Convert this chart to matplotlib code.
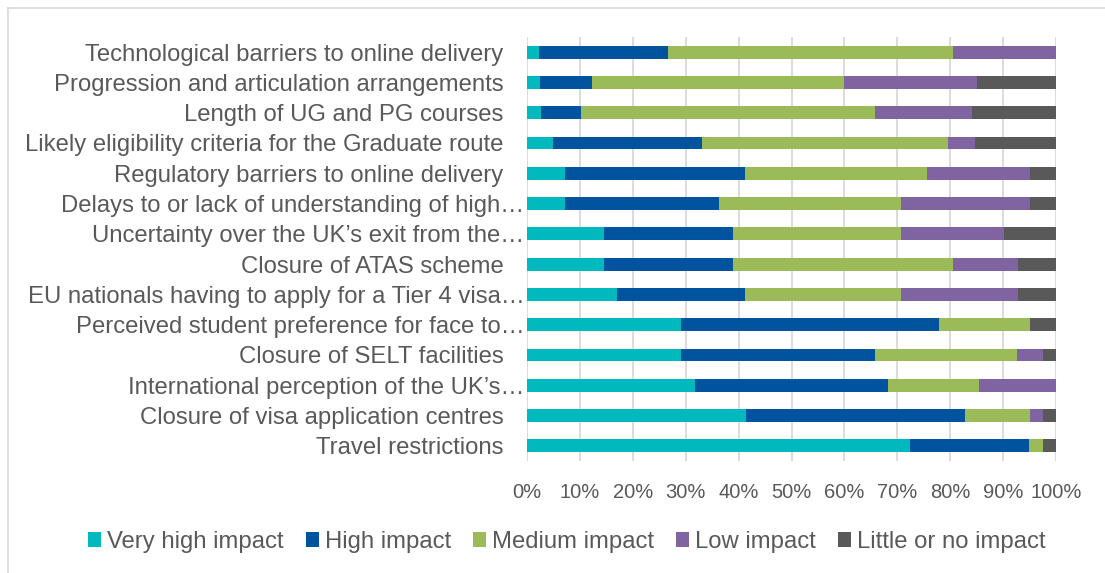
import matplotlib.pyplot as plt
from matplotlib.lines import Line2D
from matplotlib.transforms import ScaledTranslation

# barriers, listed top to bottom as in the chart
barriers = [
    "Technological barriers to online delivery",
    "Progression and articulation arrangements",
    "Length of UG and PG courses",
    "Likely eligibility criteria for the Graduate route",
    "Regulatory barriers to online delivery",
    "Delays to or lack of understanding of high\u2026",
    "Uncertainty over the UK\u2019s exit from the\u2026",
    "Closure of ATAS scheme",
    "EU nationals having to apply for a Tier 4 visa\u2026",
    "Perceived student preference for face to\u2026",
    "Closure of SELT facilities",
    "International perception of the UK\u2019s\u2026",
    "Closure of visa application centres",
    "Travel restrictions",
]

# share of respondents (%) per impact level
very_high = [2.2, 2.4, 2.6, 5.0, 7.2, 7.2, 14.5, 14.5, 17.0, 29.1, 29.1, 31.7, 41.4, 72.4]
high = [24.4, 9.9, 7.7, 28.1, 34.1, 29.1, 24.4, 24.4, 24.3, 48.8, 36.7, 36.5, 41.4, 22.5]
medium = [53.9, 47.6, 55.4, 46.4, 34.3, 34.4, 31.8, 41.6, 29.4, 17.2, 26.9, 17.2, 12.3, 2.6]
low = [19.5, 25.1, 18.4, 5.1, 19.4, 24.3, 19.4, 12.3, 22.1, 0.0, 4.8, 14.6, 2.4, 0.0]
little = [0.0, 15.0, 15.9, 15.4, 5.0, 5.0, 9.9, 7.2, 7.2, 4.9, 2.5, 0.0, 2.5, 2.5]

series = [
    ("Very high impact", very_high, "#00B9BE"),
    ("High impact", high, "#00549F"),
    ("Medium impact", medium, "#9BBB59"),
    ("Low impact", low, "#8064A2"),
    ("Little or no impact", little, "#595959"),
]

plt.rcParams['font.family'] = ['Liberation Sans', 'DejaVu Sans']

fig = plt.figure(figsize=(11.05, 5.73), dpi=100)
ax = fig.add_axes([527 / 1105, 1 - 461 / 573, 529 / 1105, 424 / 573])

ypos = list(range(len(barriers)))
left = [0.0] * len(barriers)
for name, vals, col in series:
    ax.barh(ypos, vals, left=left, height=0.42, color=col, label=name, zorder=3)
    left = [a + b for a, b in zip(left, vals)]

ax.set_xlim(0, 100)
ax.set_ylim(len(barriers) - 0.5, -0.5)
ax.set_xticks(range(0, 101, 10))
ax.set_xticklabels([f"{t}%" for t in range(0, 101, 10)])
ax.set_yticks(ypos)
ax.set_yticklabels(barriers)
ax.tick_params(axis='both', length=0, labelcolor="#595959")
ax.tick_params(axis='x', pad=16, labelsize=14.5)
ax.tick_params(axis='y', pad=17, labelsize=17.2)
ax.grid(axis='x', color="#d9d9d9", linewidth=1.3, zorder=0)
for s in ax.spines.values():
    s.set_visible(False)

# truncated labels sit closer to the axis in the original
shift = ScaledTranslation(21 / 100, 0, fig.dpi_scale_trans)
for lab in ax.get_yticklabels():
    if lab.get_text().endswith("\u2026"):
        lab.set_transform(lab.get_transform() + shift)

fig.legend(loc='center', bbox_to_anchor=(0.513, 1 - 542 / 573), ncol=5, frameon=False,
           fontsize=17.2, labelcolor="#595959", handlelength=0.55, handleheight=0.55,
           handletextpad=0.25, columnspacing=0.92)

# chart area border (top and left only visible)
fig.add_artist(Line2D([8 / 1105, 1], [1 - 8 / 573, 1 - 8 / 573], color="#d9d9d9", lw=1.2))
fig.add_artist(Line2D([8 / 1105, 8 / 1105], [0, 1 - 8 / 573], color="#d9d9d9", lw=1.2))

fig.savefig("out.png", dpi=100)
